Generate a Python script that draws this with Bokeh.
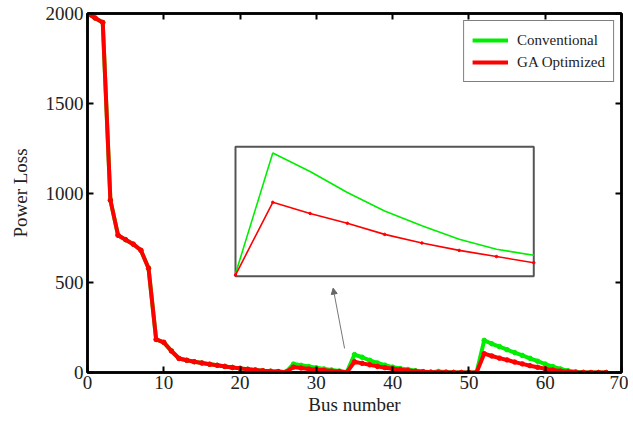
from bokeh.plotting import figure
from bokeh.models import (Range1d, LinearAxis, FixedTicker, BoxAnnotation, Arrow,
                          NormalHead, Legend, LegendItem)
from bokeh.embed import file_html
from bokeh.resources import INLINE

# ---------------- data ----------------
bus = list(range(0, 69))
conventional = [2000, 1975, 1950, 960, 765, 740, 715, 681, 581, 184, 168, 120, 78, 68, 60, 53, 46, 40, 34, 28,
                23, 18, 14, 10, 7, 5, 2,
                47, 40, 33, 26, 20, 14, 8, 2,
                100, 85, 68, 53, 41, 30, 22, 17, 10, 5, 2,
                6, 3, 1, 0, 0, 0,
                179, 160, 144, 127, 111, 95, 79, 63, 47, 33, 20, 10, 4, 1, 0, 0, 0]
ga_optimized = [2000, 1975, 1950, 960, 765, 740, 715, 681, 581, 184, 168, 120, 78, 68, 60, 53, 46, 40, 34, 28,
                23, 18, 14, 10, 7, 5, 2,
                30, 25, 20, 16, 12, 8, 5, 1,
                60, 51, 43, 34, 27, 21, 16, 11, 7, 4, 2,
                1, 1, 0, 0, 0, 0,
                105, 92, 80, 70, 58, 48, 38, 29, 21, 14, 8, 4, 1, 0, 0, 0, 0]
x_ticks = [0, 10, 20, 30, 40, 50, 60, 70]
y_ticks = [0, 500, 1000, 1500, 2000]
series_names = ["Conventional", "GA Optimized"]
inset_x = (34, 42)       # zoomed bus interval shown in the inset
inset_y = (0, 105)

# ---------------- style / layout ----------------
FONT = "Liberation Serif"
GREEN = "#00ee00"
RED = "#ff0000"
X0, X1, Y0, Y1 = 0, 70, 0, 2000
# inset placement expressed in main-axis units
BOX_L, BOX_R, BOX_B, BOX_T = 19.4, 58.5, 536, 1257

p = figure(width=628, height=418, output_backend="svg", toolbar_location=None,
           x_range=Range1d(X0, X1), y_range=Range1d(Y0, Y1),
           x_axis_label="Bus number", y_axis_label="Power Loss",
           min_border_left=87, min_border_right=7, min_border_top=13, min_border_bottom=46)
p.background_fill_color = "white"
p.border_fill_color = "white"
p.xgrid.visible = False
p.ygrid.visible = False
p.outline_line_color = "black"
p.outline_line_width = 2.5

kx = (inset_x[1] - inset_x[0]) / (BOX_R - BOX_L)
ky = (inset_y[1] - inset_y[0]) / (BOX_T - BOX_B)
p.extra_x_ranges = {"inset": Range1d(inset_x[0] - (BOX_L - X0) * kx, inset_x[1] + (X1 - BOX_R) * kx)}
p.extra_y_ranges = {"inset": Range1d(inset_y[0] - (BOX_B - Y0) * ky, inset_y[1] + (Y1 - BOX_T) * ky)}

# main axes
p.xaxis.ticker = FixedTicker(ticks=x_ticks)
p.yaxis.ticker = FixedTicker(ticks=y_ticks)
for ax in (p.xaxis[0], p.yaxis[0]):
    ax.axis_line_width = 2.5
    ax.major_tick_in = 6
    ax.major_tick_out = 0
    ax.major_tick_line_width = 2
    ax.minor_tick_line_color = None
    ax.major_label_text_font = FONT
    ax.major_label_text_font_size = "19px"
    ax.major_label_text_color = "#222222"
    ax.axis_label_text_font = FONT
    ax.axis_label_text_font_size = "19px"
    ax.axis_label_text_font_style = "normal"
    ax.axis_label_text_color = "#222222"
    ax.major_label_standoff = 4
p.xaxis.major_label_standoff = 3
p.xaxis.axis_label_standoff = 2
p.yaxis.axis_label_standoff = 12

top_ax = LinearAxis(ticker=FixedTicker(ticks=x_ticks), major_label_text_color=None,
                    major_label_text_font_size="1px",
                    major_label_standoff=0, major_tick_in=6, major_tick_out=0,
                    major_tick_line_width=2, minor_tick_line_color=None, axis_line_width=2.5)
right_ax = LinearAxis(ticker=FixedTicker(ticks=y_ticks), major_label_text_color=None,
                      major_label_text_font_size="1px",
                      major_label_standoff=0, major_tick_in=6, major_tick_out=0,
                      major_tick_line_width=2, minor_tick_line_color=None, axis_line_width=2.5)
p.add_layout(top_ax, "above")
p.add_layout(right_ax, "right")

# main series
g_line = p.line(bus, conventional, line_color=GREEN, line_width=4)
p.scatter(bus, conventional, size=4.5, color=GREEN)
r_line = p.line(bus, ga_optimized, line_color=RED, line_width=4)
p.scatter(bus, ga_optimized, size=4.5, color=RED)

# inset
box = BoxAnnotation(left=BOX_L, right=BOX_R, bottom=BOX_B, top=BOX_T, fill_color="white",
                    fill_alpha=1, line_color="#555555", line_alpha=1, line_width=2, level="underlay")
p.add_layout(box)
i0 = bus.index(inset_x[0])
i1 = bus.index(inset_x[1]) + 1
p.line(bus[i0:i1], conventional[i0:i1], line_color=GREEN, line_width=1.6,
       x_range_name="inset", y_range_name="inset")
p.line(bus[i0:i1], ga_optimized[i0:i1], line_color=RED, line_width=1.6,
       x_range_name="inset", y_range_name="inset")
p.scatter(bus[i0:i1], ga_optimized[i0:i1], size=2.5, color=RED,
          x_range_name="inset", y_range_name="inset")

# arrow pointing to the inset
p.add_layout(Arrow(end=NormalHead(size=6, fill_color="#666666", line_color="#666666", line_width=1),
                   x_start=33.7, y_start=134, x_end=32.2, y_end=470,
                   line_color="#777777", line_width=1))

legend = Legend(items=[LegendItem(label=series_names[0], renderers=[g_line]),
                       LegendItem(label=series_names[1], renderers=[r_line])],
                location="top_right", margin=7, padding=8, spacing=0,
                glyph_width=36, glyph_height=22, label_height=22, label_standoff=9,
                label_text_font=FONT, label_text_font_size="15px", label_text_color="#222222",
                border_line_color="black", border_line_width=1.5, background_fill_alpha=1)
p.add_layout(legend)

open("out.html", "w").write(file_html(p, INLINE))
